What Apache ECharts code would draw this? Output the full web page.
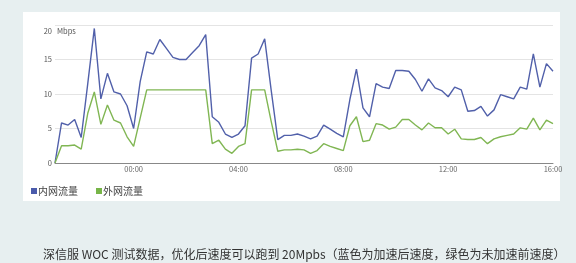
<!DOCTYPE html>
<html>
<head>
<meta charset="utf-8">
<script src="https://cdn.jsdelivr.net/npm/echarts@6/dist/echarts.min.js"></script>
<style>
  html, body { margin: 0; padding: 0; background: #e7eff0; }
  #chart { width: 576px; height: 263px; }
</style>
</head>
<body>
<div id="chart"></div>
<script>
// 时间点（21:00 ~ 16:00，每 15 分钟）
const times = [
  '21:00','21:15','21:30','21:45','22:00','22:15','22:30','22:45','23:00','23:15','23:30','23:45',
  '00:00','00:15','00:30','00:45','01:00','01:15','01:30','01:45','02:00','02:15','02:30','02:45',
  '03:00','03:15','03:30','03:45','04:00','04:15','04:30','04:45','05:00','05:15','05:30','05:45',
  '06:00','06:15','06:30','06:45','07:00','07:15','07:30','07:45','08:00','08:15','08:30','08:45',
  '09:00','09:15','09:30','09:45','10:00','10:15','10:30','10:45','11:00','11:15','11:30','11:45',
  '12:00','12:15','12:30','12:45','13:00','13:15','13:30','13:45','14:00','14:15','14:30','14:45',
  '15:00','15:15','15:30','15:45','16:00'
];

// 内网流量（加速后）
const innerTraffic = [
  0, 5.8, 5.5, 6.3, 3.7, 11.5, 19.5, 9.3, 13.0, 10.3, 10.0, 8.3,
  5.0, 11.8, 16.1, 15.8, 17.9, 16.6, 15.3, 15.0, 15.0, 16.0, 17.0, 18.6,
  6.7, 5.9, 4.2, 3.7, 4.2, 5.4, 15.2, 15.8, 18.0, 10.5, 3.4, 4.0,
  4.0, 4.2, 3.9, 3.5, 3.9, 5.5, 4.9, 4.3, 3.8, 9.2, 13.6, 8.0,
  6.7, 11.5, 11.0, 10.8, 13.4, 13.4, 13.3, 12.1, 10.4, 12.2, 10.9, 10.5,
  9.6, 11.0, 10.6, 7.5, 7.6, 8.2, 6.8, 7.7, 9.9, 9.6, 9.3, 11.0,
  10.7, 15.8, 11.0, 14.4, 13.3
];

// 外网流量（未加速）
const outerTraffic = [
  0, 2.5, 2.5, 2.6, 2.0, 7.2, 10.3, 5.6, 8.4, 6.2, 5.8, 3.8,
  2.4, 6.5, 10.6, 10.6, 10.6, 10.6, 10.6, 10.6, 10.6, 10.6, 10.6, 10.6,
  2.8, 3.3, 2.0, 1.4, 2.4, 2.8, 10.6, 10.6, 10.6, 6.0, 1.7, 1.9,
  1.9, 2.0, 1.9, 1.4, 1.8, 2.8, 2.4, 2.1, 1.8, 5.4, 6.7, 3.1,
  3.3, 5.7, 5.5, 4.9, 5.2, 6.3, 6.3, 5.5, 4.8, 5.8, 5.1, 5.1,
  4.2, 4.9, 3.5, 3.4, 3.4, 3.7, 2.8, 3.5, 3.8, 4.0, 4.2, 5.1,
  4.9, 6.5, 4.8, 6.2, 5.7
];

const yTicks = [0, 5, 10, 15, 20];
const shownLabels = ['00:00', '04:00', '08:00', '12:00', '16:00'];
const caption = '深信服 WOC 测试数据，优化后速度可以跑到 20Mpbs（蓝色为加速后速度，绿色为未加速前速度）';

const myChart = echarts.init(document.getElementById('chart'));

const option = {
  backgroundColor: '#e7eff0',
  animation: false,
  textStyle: { fontFamily: '"Noto Sans CJK SC", "Noto Sans", sans-serif' },
  graphic: [
    {
      type: 'rect',
      z: -10,
      shape: { x: 23, y: 12, width: 537, height: 189 },
      style: { fill: '#ffffff' }
    }
  ],
  title: {
    text: caption,
    left: 38,
    top: 243,
    textStyle: {
      fontSize: 12,
      fontWeight: 'normal',
      color: '#333',
      fontFamily: '"Noto Sans CJK SC", sans-serif'
    }
  },
  legend: {
    left: 26,
    top: 181,
    itemWidth: 6,
    itemHeight: 6,
    itemGap: 18,
    icon: 'rect',
    textStyle: { fontSize: 10, color: '#444', padding: [0, 0, 0, -4] },
    data: ['内网流量', '外网流量']
  },
  grid: { left: 55, right: 23, top: 25, bottom: 100 },
  xAxis: {
    type: 'category',
    boundaryGap: false,
    data: times,
    axisLine: { lineStyle: { color: '#888', width: 1 } },
    axisTick: { show: false },
    axisLabel: {
      fontSize: 7.5,
      color: '#666',
      margin: 2,
      showMaxLabel: true,
      interval: (index, value) => shownLabels.includes(value)
    },
    splitLine: { show: false }
  },
  yAxis: {
    type: 'value',
    min: yTicks[0],
    max: yTicks[yTicks.length - 1],
    interval: 5,
    name: 'Mbps',
    nameLocation: 'end',
    nameGap: -6,
    nameMoveOverlap: false,
    nameTextStyle: {
      fontSize: 7.5,
      color: '#555',
      align: 'left',
      verticalAlign: 'middle',
      padding: [0, 0, 0, 2]
    },
    axisLine: { show: false },
    axisTick: { show: false },
    axisLabel: {
      fontSize: 7.5,
      color: '#555',
      margin: 3,
      formatter: v => (v === 20 ? '{t|20}' : String(v)),
      rich: { t: { fontSize: 7.5, color: '#555', padding: [12, 0, 0, 0] } }
    },
    splitLine: { lineStyle: { color: '#e4e4e4', width: 1 } }
  },
  series: [
    {
      name: '内网流量',
      type: 'line',
      data: innerTraffic,
      showSymbol: false,
      lineStyle: { color: '#5160aa', width: 1.4 },
      itemStyle: { color: '#4a5bab' }
    },
    {
      name: '外网流量',
      type: 'line',
      data: outerTraffic,
      showSymbol: false,
      lineStyle: { color: '#80b653', width: 1.4 },
      itemStyle: { color: '#77b548' }
    }
  ]
};

myChart.setOption(option);
</script>
</body>
</html>
